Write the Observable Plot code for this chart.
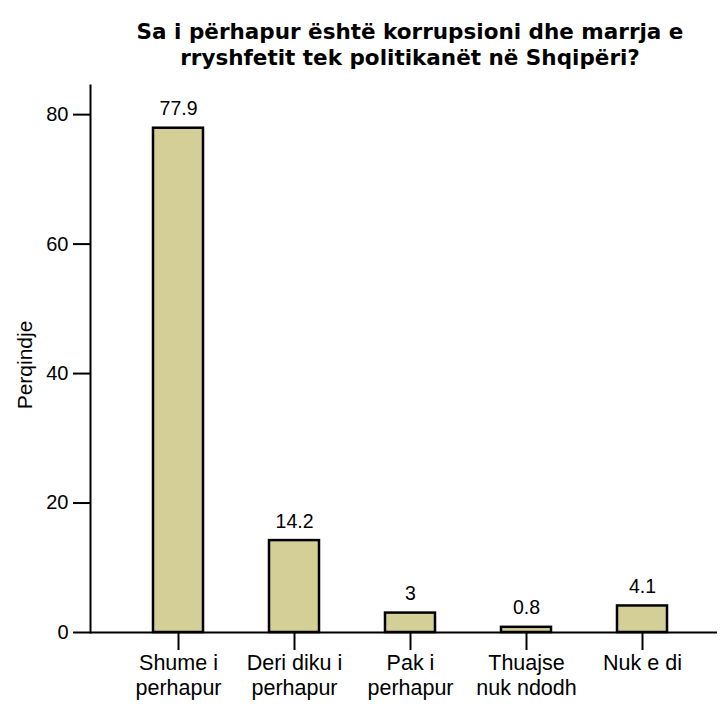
<!DOCTYPE html>
<html>
<head>
<meta charset="utf-8">
<script src="https://cdn.jsdelivr.net/npm/d3@7"></script>
<script src="https://cdn.jsdelivr.net/npm/@observablehq/plot@0.6"></script>
<style>
  html, body { margin: 0; padding: 0; background: #fff; }
  #chart { width: 720px; height: 712px; }
</style>
</head>
<body>
<div id="chart"></div>
<script>
const categories = ["Shume i perhapur", "Deri diku i perhapur", "Pak i perhapur", "Thuajse nuk ndodh", "Nuk e di"];
const tickLabels = ["Shume i\nperhapur", "Deri diku i\nperhapur", "Pak i\nperhapur", "Thuajse\nnuk ndodh", "Nuk e di"];
const values = [77.9, 14.2, 3, 0.8, 4.1];
const yTicks = [0, 20, 40, 60, 80];
const titleText = "Sa i përhapur është korrupsioni dhe marrja e\nrryshfetit tek politikanët në Shqipëri?";
const yLabel = "Perqindje";

const data = categories.map((c, i) => ({cat: c, value: values[i]}));
const font = "'Liberation Sans', Arial, sans-serif";

const chart = Plot.plot({
  width: 720,
  height: 712,
  marginLeft: 90,
  marginRight: 3,
  marginTop: 85,
  marginBottom: 80,
  style: {fontFamily: font, color: "black", background: "white"},
  x: {type: "band", domain: categories, range: [120, 700], paddingInner: 0.57, paddingOuter: 0.285, align: 0.5},
  y: {domain: [0, 84.5]},
  marks: [
    Plot.barY(data, {x: "cat", y: "value", fill: "#d4cf97", stroke: "black", strokeWidth: 2.5}),
    Plot.text(data, {x: "cat", y: "value", text: d => String(d.value), dy: -13, lineAnchor: "bottom", fontSize: 19.5, fill: "black"}),
    Plot.ruleY([0], {strokeWidth: 2}),
    Plot.frame({anchor: "left", strokeWidth: 2}),
    Plot.axisY({ticks: yTicks, tickSize: 17, tickPadding: 5, fontSize: 20, strokeWidth: 2, label: null}),
    Plot.text([yLabel], {frameAnchor: "left", textAnchor: "middle", dx: -65, dy: 6, rotate: -90, fontSize: 21, fill: "black"}),
    Plot.axisX({tickSize: 18, tickPadding: 2, fontSize: 21.5, lineHeight: 1.16, strokeWidth: 2, label: null,
      tickFormat: d => tickLabels[categories.indexOf(d)]}),
    Plot.text([titleText], {frameAnchor: "top", dx: 6, dy: -65, lineAnchor: "top", lineHeight: 1.2, fontSize: 21.5, fontWeight: "bold", fontFamily: "'DejaVu Sans', sans-serif", fill: "black"})
  ]
});
document.getElementById("chart").appendChild(chart);
</script>
</body>
</html>
